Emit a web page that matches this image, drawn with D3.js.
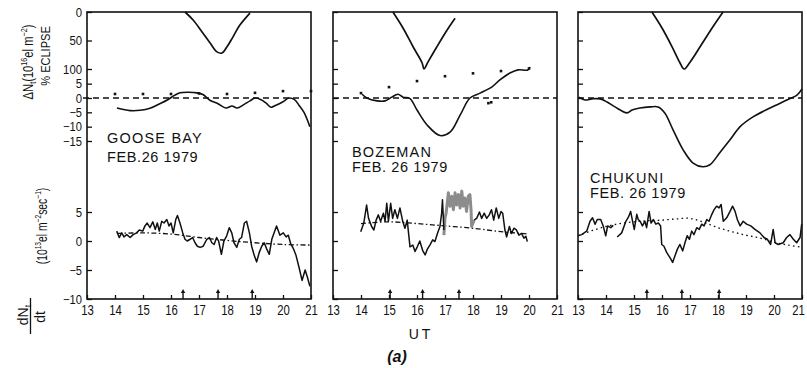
<!DOCTYPE html>
<html>
<head>
<meta charset="utf-8">
<script src="https://cdn.jsdelivr.net/npm/d3@7"></script>
<style>
  body { margin: 0; background: #fff; }
  svg { display: block; }
  text { font-family: "Liberation Sans", "DejaVu Sans", sans-serif; fill: #111; }
</style>
</head>
<body>
<svg id="chart" width="807" height="368"></svg>
<script>
// ---- tick values -------------------------------------------------------
const HOURS = [13, 14, 15, 16, 17, 18, 19, 20, 21];
const ECLIPSE_TICKS = [0, 50, 100];
const DN_TICKS = [5, 0, -5, -10, -15];
const RATE_TICKS = [5, 0, -5, -10];

// ---- station captions ----------------------------------------------------
const stationNames = ["GOOSE BAY", "BOZEMAN", "CHUKUNI"];
const stationDates = ["FEB.26 1979", "FEB. 26 1979", "FEB. 26 1979"];

// ---- percent eclipse [UT, %] ------------------------------------------------
const gooseEclipse = [[16.5,0],[16.79,14],[17.11,35],[17.39,54],[17.64,70],[17.82,72],[18.0,61],[18.21,44],[18.46,23],[18.82,2]];
const bozemanEclipse = [[15.14,0],[15.5,28],[15.86,61],[16.18,89],[16.25,100],[16.39,88],[16.71,61],[17.07,32],[17.36,11]];
const chukuniEclipse = [[15.64,0],[16.0,28],[16.36,61],[16.64,89],[16.79,100],[17.0,88],[17.36,61],[17.79,28],[18.18,0]];

// ---- ΔNt, 10^16 el m^-2 [UT, value] ----------------------------------------
const gooseDN = [[14.07,-3.5],[14.54,-4.4],[14.9,-4.3],[15.25,-3.6],[15.6,-2],[15.9,-0.5],[16.14,1],[16.32,1.8],[16.6,2],[16.93,1.8],[17.14,1.2],[17.39,-0.8],[17.68,-2],[17.96,-3.5],[18.18,-2.8],[18.36,-3.5],[18.6,-2.3],[18.82,-1],[19.0,0],[19.2,-0.5],[19.4,-1.8],[19.57,-3.2],[19.75,-2.5],[20.0,-1.3],[20.21,0],[20.4,-0.5],[20.57,-2.5],[20.75,-5],[20.96,-10]];
const bozemanDN = [[14.04,1.3],[14.21,0],[14.57,-1],[14.86,-1],[15.1,0.3],[15.32,1.3],[15.5,0.3],[15.75,-0.2],[16.0,-4.2],[16.36,-9.4],[16.82,-13.1],[17.18,-11.9],[17.54,-6],[17.89,0],[18.25,1.7],[18.68,3.9],[18.96,6.3],[19.32,8.7],[19.61,9.8],[19.96,9.8],[20.04,10.8]];
const chukuniDN = [[13.04,0.3],[13.25,-0.7],[13.5,-0.3],[13.79,-0.3],[14.04,-1.4],[14.32,-3.1],[14.75,-5.2],[14.93,-4.2],[15.21,-3.5],[15.57,-3.1],[15.86,-3.1],[16.1,-5.2],[16.39,-11],[16.75,-18],[17.11,-22.7],[17.46,-24],[17.71,-23.3],[18.07,-19],[18.43,-14.6],[18.79,-10],[19.25,-6.6],[19.86,-3.5],[20.46,-0.7],[20.82,1],[21.0,3.2]];

// hourly reference points on the ΔNt panels
const gooseDots = [[14,1.4],[15,1.4],[16,1.4],[17,1.6],[18,1.4],[19,1.8],[20,2.4],[21,2.4]];
const bozemanDots = [[14,1.7],[15,3.8],[16,5.9],[17,7.6],[18,8.6],[19,9.4],[20,10.3],[18.55,-1.8],[18.65,-1.5]];

// ---- dNt/dt, 10^13 el m^-2 s^-1 [UT, value] ---------------------------------
const gooseRate = [[14.06,1.7],[14.15,0.6],[14.24,1.4],[14.32,0.7],[14.42,1.1],[14.54,0.6],[14.65,1.1],[14.77,1.4],[14.87,1.9],[14.99,1.7],[15.07,2.6],[15.15,3.1],[15.25,2.3],[15.35,3.3],[15.44,2.0],[15.51,3.1],[15.58,1.7],[15.67,3.4],[15.75,3.1],[15.85,3.7],[15.93,2.6],[16.0,3.1],[16.08,1.4],[16.17,3.7],[16.23,4.4],[16.32,3.1],[16.42,1.4],[16.5,0.3],[16.58,0],[16.68,0.3],[16.77,0.6],[16.86,-0.3],[16.94,-0.9],[17.04,-1.1],[17.15,-0.9],[17.28,0.3],[17.37,0.6],[17.46,-0.3],[17.54,-0.6],[17.63,0.6],[17.7,0],[17.8,-2.3],[17.89,0],[17.99,0.9],[18.08,2.3],[18.17,1.4],[18.25,-0.3],[18.35,-1.1],[18.44,0.3],[18.52,0.6],[18.62,3.1],[18.7,3.4],[18.8,1.4],[18.88,-0.9],[18.98,-2.6],[19.06,-3.6],[19.15,-2.0],[19.24,-0.9],[19.33,-0.3],[19.42,-1.4],[19.51,-2.3],[19.6,0.3],[19.68,1.4],[19.77,2.6],[19.89,1.0],[20.01,1.4],[20.11,0.7],[20.19,1.0],[20.27,-0.4],[20.37,-1.3],[20.46,-2.4],[20.58,-4.7],[20.68,-6.8],[20.79,-5.0],[20.87,-6.2],[20.96,-7.8]];
const gooseRateRef = [[14.07,1.3],[15.0,1.4],[16.0,1.2],[17.0,0.6],[18.0,0.1],[19.0,-0.3],[20.0,-0.6],[21.0,-0.7]];

const bozemanRate = [[13.99,1.6],[14.1,3.1],[14.2,6.2],[14.27,3.9],[14.38,2.5],[14.46,1.9],[14.54,3.6],[14.62,4.5],[14.7,3.4],[14.8,4.8],[14.86,3.4],[14.92,6.5],[14.98,3.4],[15.06,6.5],[15.13,3.9],[15.21,5.4],[15.3,3.9],[15.39,5.7],[15.49,3.4],[15.57,2.2],[15.65,3.6],[15.75,-1],[15.85,-0.7],[15.93,-1.8],[16.01,-1],[16.1,0],[16.2,-1.6],[16.29,-2.4],[16.37,-1.4],[16.46,-0.7],[16.56,0.2],[16.64,-0.1],[16.73,1.3],[16.82,2.5],[16.88,4.8],[16.91,7.1],[16.96,1.9],[16.97,null],[18.03,null],[18.04,3.6],[18.13,3.9],[18.23,5.0],[18.31,3.9],[18.4,4.8],[18.49,3.9],[18.58,4.5],[18.66,5.4],[18.74,3.6],[18.83,5.7],[18.92,3.9],[19.0,5.1],[19.06,4.8],[19.14,1.9],[19.2,0.7],[19.3,2.5],[19.37,1.3],[19.46,2.2],[19.55,1.9],[19.64,1.0],[19.73,1.3],[19.82,0.5],[19.89,0.8],[19.94,-0.1]];
// part of the Bozeman trace printed in grey
const bozemanRateGrey = [[16.96,1.0],[17.0,4.0],[17.04,4.8],[17.12,8.3],[17.18,6.0],[17.24,7.7],[17.3,5.4],[17.36,8.3],[17.42,6.2],[17.48,8.0],[17.54,5.7],[17.6,8.6],[17.65,6.0],[17.71,7.4],[17.77,5.1],[17.83,7.7],[17.89,8.0],[17.93,5.4],[17.95,2.5],[18.04,3.6]];
const bozemanRateRef = [[14.0,3.0],[15.0,3.3],[16.0,3.0],[17.0,2.6],[18.0,2.2],[19.0,1.6],[20.0,1.2]];

const chukuniRate = [[13.0,0.9],[13.13,1.1],[13.31,1.7],[13.43,3.4],[13.52,4.0],[13.61,2.9],[13.69,3.7],[13.81,3.7],[13.9,2.6],[13.99,0.9],[14.06,2.6],[14.17,2.3],[14.26,2.7],[14.3,null],[14.38,null],[14.4,0.7],[14.56,1.4],[14.71,3.4],[14.8,4.1],[14.88,5.1],[14.95,3.4],[15.01,2.0],[15.1,4.6],[15.15,3.7],[15.22,3.4],[15.3,2.6],[15.39,3.4],[15.45,2.3],[15.54,5.1],[15.61,3.1],[15.69,3.7],[15.78,2.9],[15.87,3.1],[15.95,2.6],[15.99,-0.6],[16.07,-0.9],[16.17,-2.0],[16.29,-2.9],[16.38,-3.7],[16.46,-2.6],[16.55,-1.4],[16.64,-0.6],[16.74,-1.7],[16.82,-0.3],[16.9,0.9],[16.98,0.3],[17.06,1.7],[17.14,1.1],[17.24,2.3],[17.33,2.0],[17.42,2.9],[17.5,2.6],[17.6,3.7],[17.68,3.4],[17.78,4.6],[17.86,5.4],[17.95,6.0],[18.04,5.7],[18.11,6.3],[18.19,3.4],[18.31,4.0],[18.43,5.1],[18.52,6.0],[18.61,5.1],[18.69,3.7],[18.79,2.6],[18.9,3.4],[19.02,2.9],[19.17,2.6],[19.32,2.0],[19.5,1.4],[19.64,0.6],[19.76,0.3],[19.88,-0.6],[19.97,2.0],[20.04,-0.3],[20.15,-0.6],[20.33,-0.3],[20.45,0.6],[20.57,1.1],[20.69,0.3],[20.81,-0.3],[20.93,0.6],[20.99,2.9]];
const chukuniRateRef = [[13.0,0.9],[13.5,1.8],[14.0,2.5],[14.5,3.0],[15.0,3.3],[15.5,3.5],[16.0,3.6],[16.5,3.8],[17.0,3.9],[17.5,3.2],[18.0,2.3],[18.5,1.6],[19.0,1.0],[19.5,0.5],[20.0,-0.2],[20.5,-0.7],[21.0,-1.1]];

// eclipse first contact, maximum and last contact (arrows on the time axis)
const gooseArrows = [16.43, 17.68, 18.9];
const bozemanArrows = [15.04, 16.2, 17.5];
const chukuniArrows = [15.46, 16.71, 18.04];

// ---- layout ----------------------------------------------------------------
const TOP = 12, BOTTOM = 299, PANEL_W = 224;
const PANEL_LEFT = [87, 333, 578];
const CAPTION_POS = [[107, 143, 162], [352, 157, 172], [590, 183, 198]];
const DIGIT_W = 6.3;   // advance of the narrow tick numerals

const svg = d3.select("#chart");

const yEcl  = d3.scaleLinear().domain([0, 100]).range([TOP, 69]);
const yDN   = d3.scaleLinear().domain([0, -15]).range([98, 141]);
const yRate = d3.scaleLinear().domain([-10, 5]).range([BOTTOM, 212]);

const panels = [
  { eclipse: gooseEclipse, dn: gooseDN, dots: gooseDots, rate: gooseRate, grey: null, ref: gooseRateRef, refDash: "5,2.5,1.5,2.5", arrows: gooseArrows },
  { eclipse: bozemanEclipse, dn: bozemanDN, dots: bozemanDots, rate: bozemanRate, grey: bozemanRateGrey, ref: bozemanRateRef, refDash: "5,2.5,1.5,2.5", arrows: bozemanArrows },
  { eclipse: chukuniEclipse, dn: chukuniDN, dots: [], rate: chukuniRate, grey: null, ref: chukuniRateRef, refDash: "1.6,3.2", arrows: chukuniArrows }
];

function styleAxis(g, size) {
  g.select(".domain").remove();
  g.selectAll(".tick line").attr("stroke", "#111").attr("stroke-width", 1.3);
  g.selectAll(".tick text").attr("font-size", size).attr("fill", "#111")
    .each(function () {
      const s = d3.select(this).text();
      if (s.length) d3.select(this).attr("textLength", s.length * DIGIT_W).attr("lengthAdjust", "spacingAndGlyphs");
    });
}

panels.forEach((p, i) => {
  const left = PANEL_LEFT[i];
  const x = d3.scaleLinear().domain([13, 21]).range([left, left + PANEL_W]);
  const g = svg.append("g");

  // left axes: three stacked scales, labelled on the first panel only
  const labelled = i === 0;
  [[yEcl, ECLIPSE_TICKS], [yDN, DN_TICKS], [yRate, RATE_TICKS]].forEach(([sc, tv]) => {
    const ax = d3.axisLeft(sc).tickValues(tv).tickSize(-5).tickPadding(5)
      .tickFormat(labelled ? d3.format("") : "");
    g.append("g").attr("transform", `translate(${left},0)`).call(ax).call(styleAxis, 12.5);
  });

  // time axis
  const xa = d3.axisBottom(x).tickValues(HOURS).tickSize(-4).tickPadding(6).tickFormat(d3.format("d"));
  const xg = g.append("g").attr("transform", `translate(0,${BOTTOM})`).call(xa).call(styleAxis, 14);
  if (i === 2) {
    xg.selectAll(".tick text").filter(d => d === 16).attr("fill", "#9a9a9a");
    xg.selectAll(".tick text").filter(d => d === 21).attr("dx", -4);
  }

  // frame
  g.append("rect").attr("x", left).attr("y", TOP).attr("width", PANEL_W).attr("height", BOTTOM - TOP)
    .attr("fill", "none").attr("stroke", "#111").attr("stroke-width", 1.6);

  // zero line of ΔNt
  g.append("line").attr("x1", i === 0 ? left - 4 : left).attr("x2", left + PANEL_W)
    .attr("y1", yDN(0)).attr("y2", yDN(0))
    .attr("stroke", "#111").attr("stroke-width", 1.3).attr("stroke-dasharray", "6,4");

  const smooth = (ys) => d3.line().x(d => x(d[0])).y(d => ys(d[1])).curve(d3.curveCatmullRom.alpha(0.5));
  const jagged = (ys) => d3.line().defined(d => d[1] != null).x(d => x(d[0])).y(d => ys(d[1]));

  // percent eclipse
  g.append("path").datum(p.eclipse).attr("d", smooth(yEcl))
    .attr("fill", "none").attr("stroke", "#111").attr("stroke-width", 1.7);

  // ΔNt
  g.append("path").datum(p.dn).attr("d", smooth(yDN))
    .attr("fill", "none").attr("stroke", "#111").attr("stroke-width", 1.6);
  g.selectAll(null).data(p.dots).enter().append("rect")
    .attr("x", d => x(d[0]) - 1.3).attr("y", d => yDN(d[1]) - 1.3)
    .attr("width", 2.6).attr("height", 2.6).attr("fill", "#111");

  // dNt/dt reference curve and trace
  g.append("path").datum(p.ref).attr("d", smooth(yRate))
    .attr("fill", "none").attr("stroke", "#111").attr("stroke-width", 1.3).attr("stroke-dasharray", p.refDash);
  if (p.grey) {
    g.append("path").datum(p.grey).attr("d", jagged(yRate))
      .attr("fill", "none").attr("stroke", "#8c8c8c").attr("stroke-width", 3).attr("stroke-linejoin", "round");
  }
  g.append("path").datum(p.rate).attr("d", jagged(yRate))
    .attr("fill", "none").attr("stroke", "#111").attr("stroke-width", 1.5).attr("stroke-linejoin", "round");

  // contact-time arrows
  p.arrows.forEach(t => {
    const ax = x(t);
    g.append("path").attr("d", `M${ax},${BOTTOM} V${BOTTOM - 8}`).attr("stroke", "#111").attr("stroke-width", 1.4);
    g.append("path").attr("d", `M${ax - 2.2},${BOTTOM - 6} L${ax},${BOTTOM - 10} L${ax + 2.2},${BOTTOM - 6} Z`).attr("fill", "#111");
  });

  // caption
  const [cx, cy1, cy2] = CAPTION_POS[i];
  g.append("text").attr("x", cx).attr("y", cy1).attr("font-size", 14.5).attr("letter-spacing", 1.2).text(stationNames[i]);
  g.append("text").attr("x", cx).attr("y", cy2).attr("font-size", 14.5).attr("letter-spacing", 0.6).text(stationDates[i]);
});

// ---- axis titles (rotated, slightly condensed along the reading direction) ----
function rotated(x, y, squeeze, size) {
  return svg.append("text").attr("transform", `translate(${x},${y}) rotate(-90) scale(${squeeze},1)`)
    .attr("text-anchor", "middle").attr("font-size", size);
}
const t1 = rotated(33, 62, 0.8, 14);
t1.append("tspan").text("ΔN");
t1.append("tspan").attr("font-size", 9).attr("dy", 3).text("t");
t1.append("tspan").attr("dy", -3).text("(10");
t1.append("tspan").attr("font-size", 9).attr("dy", -6).text("16");
t1.append("tspan").attr("dy", 6).text("el m");
t1.append("tspan").attr("font-size", 9).attr("dy", -6).text("−2");
t1.append("tspan").attr("dy", 6).text(")");

rotated(50, 56, 0.85, 13).text("% ECLIPSE");

const t3 = rotated(47, 226, 0.74, 14);
t3.append("tspan").text("(10");
t3.append("tspan").attr("font-size", 9).attr("dy", -6).text("13");
t3.append("tspan").attr("dy", 6).text("el m");
t3.append("tspan").attr("font-size", 9).attr("dy", -6).text("−2");
t3.append("tspan").attr("dy", 6).text("sec");
t3.append("tspan").attr("font-size", 9).attr("dy", -6).text("−1");
t3.append("tspan").attr("dy", 6).text(")");

const t4 = rotated(28, 315, 1, 14);
t4.append("tspan").text("dN");
t4.append("tspan").attr("font-size", 9).attr("dy", 3).text("t");
svg.append("line").attr("x1", 30.5).attr("x2", 30.5).attr("y1", 298).attr("y2", 334)
  .attr("stroke", "#111").attr("stroke-width", 1.3);
rotated(45, 317, 1, 14).text("dt");

// ---- bottom captions -------------------------------------------------------
svg.append("text").attr("x", 421).attr("y", 339).attr("text-anchor", "middle")
  .attr("font-size", 14).attr("letter-spacing", 3).text("UT");
svg.append("text").attr("x", 397).attr("y", 362).attr("text-anchor", "middle")
  .attr("font-size", 16).attr("font-weight", "bold").attr("font-style", "italic")
  .attr("font-family", "'Liberation Serif', serif").text("(a)");
</script>
</body>
</html>
